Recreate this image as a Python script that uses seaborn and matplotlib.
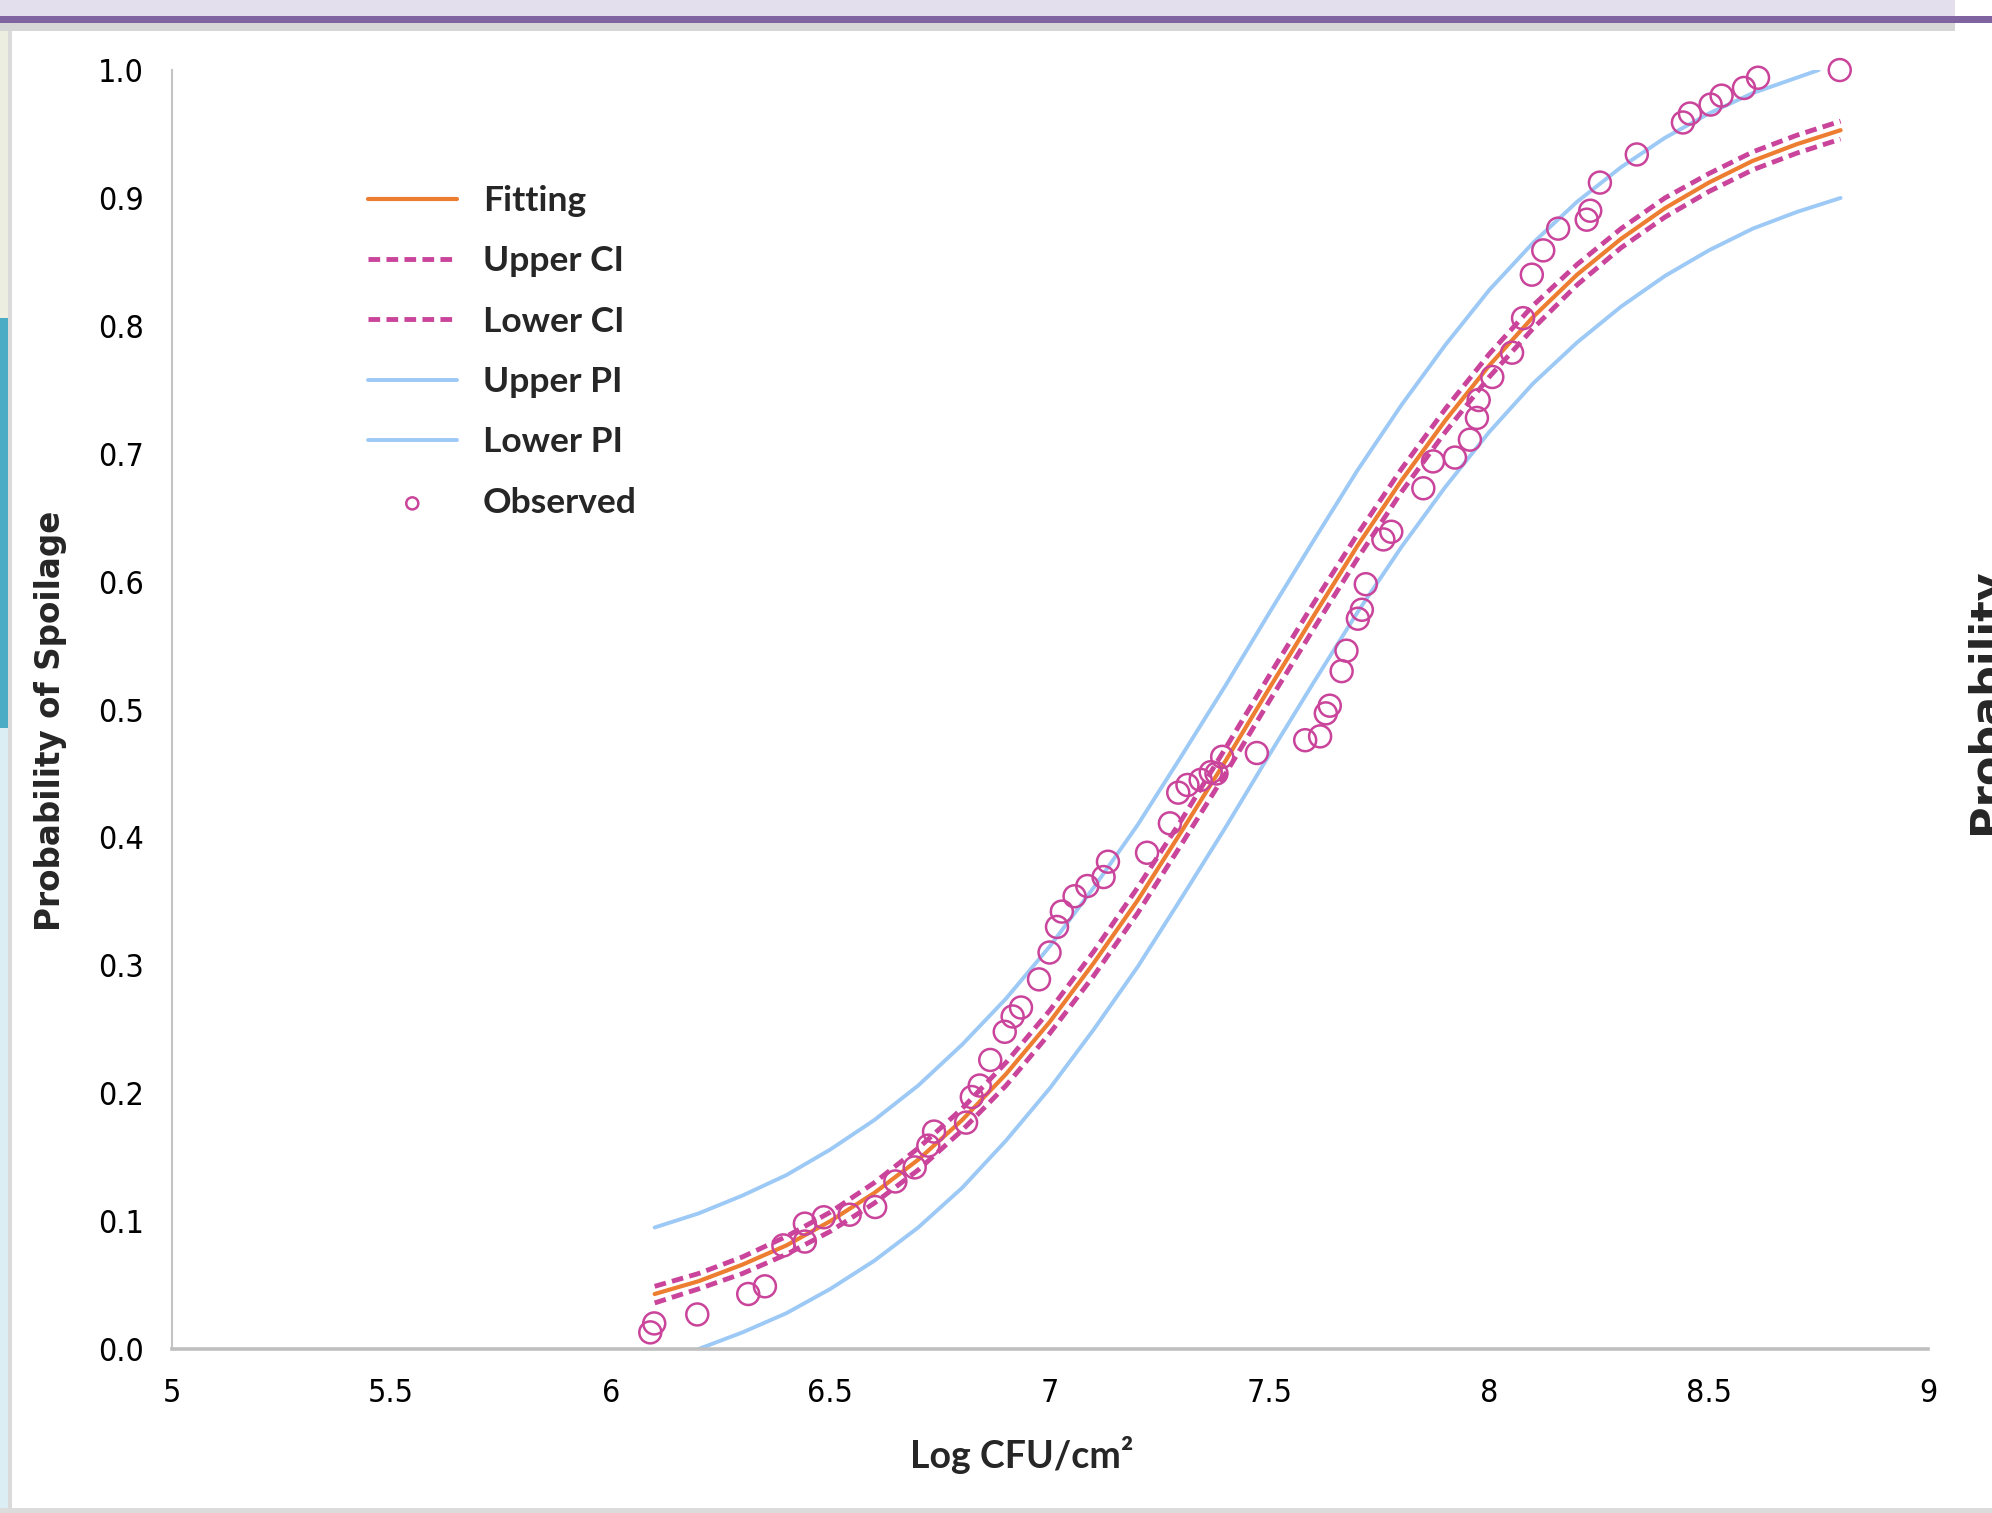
import matplotlib
matplotlib.use("Agg")
import numpy as np
import pandas as pd
import seaborn as sns
import matplotlib.pyplot as plt
from matplotlib.patches import Rectangle
from matplotlib import font_manager

# ---------------- data ----------------
x_grid = [6.1, 6.2, 6.3, 6.4, 6.5, 6.6, 6.7, 6.8, 6.9, 7.0, 7.1, 7.2, 7.3, 7.4,
          7.5, 7.6, 7.7, 7.8, 7.9, 8.0, 8.1, 8.2, 8.3, 8.4, 8.5, 8.6, 8.7, 8.8]
fitting = [0.043, 0.053, 0.066, 0.081, 0.100, 0.122, 0.148, 0.179, 0.215, 0.256,
           0.302, 0.351, 0.405, 0.460, 0.517, 0.573, 0.628, 0.679, 0.726, 0.769,
           0.807, 0.840, 0.868, 0.892, 0.912, 0.929, 0.942, 0.953]
upper_ci = [0.049, 0.059, 0.072, 0.088, 0.107, 0.130, 0.157, 0.188, 0.224, 0.265,
            0.311, 0.361, 0.414, 0.470, 0.527, 0.583, 0.637, 0.688, 0.735, 0.778,
            0.816, 0.848, 0.876, 0.900, 0.919, 0.936, 0.949, 0.960]
lower_ci = [0.036, 0.047, 0.059, 0.074, 0.092, 0.114, 0.140, 0.171, 0.206, 0.247,
            0.292, 0.341, 0.395, 0.450, 0.507, 0.563, 0.618, 0.670, 0.717, 0.760,
            0.798, 0.832, 0.861, 0.885, 0.905, 0.922, 0.935, 0.946]

x_upper_pi = [6.1, 6.2, 6.3, 6.4, 6.5, 6.6, 6.7, 6.8, 6.9, 7.0, 7.1, 7.2, 7.3, 7.4,
              7.5, 7.6, 7.7, 7.8, 7.9, 8.0, 8.1, 8.2, 8.3, 8.4, 8.5, 8.6, 8.7, 8.75]
upper_pi = [0.095, 0.106, 0.120, 0.136, 0.156, 0.179, 0.206, 0.238, 0.274, 0.315,
            0.361, 0.410, 0.464, 0.519, 0.576, 0.632, 0.687, 0.738, 0.785, 0.828,
            0.865, 0.897, 0.924, 0.947, 0.966, 0.982, 0.994, 1.000]

x_lower_pi = [6.2, 6.3, 6.4, 6.5, 6.6, 6.7, 6.8, 6.9, 7.0, 7.1, 7.2, 7.3, 7.4,
              7.5, 7.6, 7.7, 7.8, 7.9, 8.0, 8.1, 8.2, 8.3, 8.4, 8.5, 8.6, 8.7, 8.8]
lower_pi = [0.000, 0.013, 0.028, 0.047, 0.069, 0.095, 0.126, 0.163, 0.204, 0.250,
            0.299, 0.353, 0.408, 0.465, 0.521, 0.576, 0.627, 0.674, 0.717, 0.755,
            0.787, 0.815, 0.839, 0.859, 0.876, 0.889, 0.900]

obs_x = [6.090, 6.099, 6.197, 6.313, 6.351, 6.393, 6.442, 6.442, 6.485, 6.544,
         6.602, 6.648, 6.692, 6.723, 6.736, 6.809, 6.822, 6.840, 6.864, 6.897,
         6.915, 6.934, 6.975, 6.999, 7.016, 7.027, 7.056, 7.085, 7.122, 7.132,
         7.221, 7.273, 7.292, 7.313, 7.343, 7.366, 7.379, 7.392, 7.471, 7.581,
         7.615, 7.628, 7.637, 7.664, 7.675, 7.701, 7.710, 7.719, 7.759, 7.777,
         7.850, 7.872, 7.922, 7.956, 7.972, 7.976, 8.007, 8.052, 8.077, 8.097,
         8.123, 8.157, 8.222, 8.230, 8.252, 8.336, 8.441, 8.457, 8.504, 8.529,
         8.580, 8.612, 8.798]
obs_y = [0.013, 0.020, 0.027, 0.043, 0.049, 0.081, 0.098, 0.084, 0.103, 0.105,
         0.111, 0.131, 0.142, 0.159, 0.170, 0.177, 0.197, 0.206, 0.226, 0.248,
         0.260, 0.267, 0.289, 0.310, 0.330, 0.342, 0.354, 0.362, 0.369, 0.381,
         0.388, 0.411, 0.435, 0.441, 0.445, 0.451, 0.450, 0.463, 0.466, 0.476,
         0.479, 0.497, 0.503, 0.530, 0.546, 0.571, 0.578, 0.598, 0.633, 0.639,
         0.673, 0.694, 0.697, 0.711, 0.728, 0.742, 0.760, 0.779, 0.806, 0.840,
         0.859, 0.876, 0.883, 0.890, 0.912, 0.934, 0.959, 0.966, 0.973, 0.980,
         0.986, 0.994, 1.000]

x_ticks = [5, 5.5, 6, 6.5, 7, 7.5, 8, 8.5, 9]
x_tick_labels = ["5", "5.5", "6", "6.5", "7", "7.5", "8", "8.5", "9"]
y_ticks = [0.0, 0.1, 0.2, 0.3, 0.4, 0.5, 0.6, 0.7, 0.8, 0.9, 1.0]
y_tick_labels = ["0.0", "0.1", "0.2", "0.3", "0.4", "0.5", "0.6", "0.7", "0.8", "0.9", "1.0"]

# ---------------- style ----------------
sns.set_style("white")
ttf = font_manager.fontManager.ttflist
available = {f.name for f in ttf}
def pick(cands):
    for c in cands:
        if c in available:
            return c
    return "DejaVu Sans"

has_dv_condensed = any(f.name == "DejaVu Sans" and str(f.stretch) in ("condensed", "semi-condensed")
                       for f in ttf)
if has_dv_condensed:
    tick_font, tick_stretch = "DejaVu Sans", "condensed"
elif "Liberation Sans Narrow" in available:
    tick_font, tick_stretch = "Liberation Sans Narrow", "normal"
else:
    tick_font, tick_stretch = "DejaVu Sans", "normal"
label_font = pick(["Lato", "Open Sans", "DejaVu Sans"])
plt.rcParams["font.family"] = ["DejaVu Sans"]

ORANGE = "#ED7D31"
MAGENTA = "#C9449A"
BLUE = "#9CC9F5"

fig = plt.figure(figsize=(19.92, 15.13), dpi=100)
fig.patch.set_facecolor("white")

# slide decorations around the chart
deco = [
    ((0.0, 1 - 318 / 1513), 8 / 1992, 318 / 1513, "#ECEEDF"),
    ((0.0, 1 - 728 / 1513), 8 / 1992, 410 / 1513, "#4BACC6"),
    ((0.0, 0.0), 8 / 1992, 1 - 728 / 1513, "#DAEEF3"),
    ((8 / 1992, 0.0), 4 / 1992, 1.0, "#DADADA"),
    ((0.0, 1 - 16 / 1513), 1955 / 1992, 16 / 1513, "#E4DFEC"),
    ((0.0, 1 - 31 / 1513), 1955 / 1992, 9 / 1513, "#D6D6D6"),
    ((0.0, 1 - 23 / 1513), 1.0, 7 / 1513, "#8064A2"),
    ((0.0, 0.0), 1.0, 5 / 1513, "#DCDCDC"),
]
for (xy, w, h, c) in deco:
    fig.patches.append(Rectangle(xy, w, h, transform=fig.transFigure,
                                 facecolor=c, edgecolor="none", zorder=0))

ax = fig.add_axes([0.0861, 0.1084, 0.8820, 0.8453])
ax.set_facecolor("white")

sns.lineplot(x=x_upper_pi, y=upper_pi, ax=ax, color=BLUE, linewidth=2.8,
             label="Upper PI", estimator=None, sort=False)
sns.lineplot(x=x_lower_pi, y=lower_pi, ax=ax, color=BLUE, linewidth=2.8,
             label="Lower PI", estimator=None, sort=False)
sns.lineplot(x=x_grid, y=fitting, ax=ax, color=ORANGE, linewidth=3.0,
             label="Fitting", estimator=None, sort=False)
sns.lineplot(x=x_grid, y=upper_ci, ax=ax, color=MAGENTA, linewidth=3.5,
             linestyle=(0, (2.4, 1.3)), label="Upper CI", estimator=None, sort=False)
sns.lineplot(x=x_grid, y=lower_ci, ax=ax, color=MAGENTA, linewidth=3.5,
             linestyle=(0, (2.4, 1.3)), label="Lower CI", estimator=None, sort=False)
sns.scatterplot(x=obs_x, y=obs_y, ax=ax, marker="o", s=250, facecolors="none",
                edgecolor=MAGENTA, linewidth=1.8, label="Observed", clip_on=False,
                zorder=5)

ax.set_xlim(5, 9)
ax.set_ylim(0, 1)
ax.set_xticks(x_ticks)
ax.set_xticklabels(x_tick_labels)
ax.set_yticks(y_ticks)
ax.set_yticklabels(y_tick_labels)
ax.tick_params(axis="both", length=0, labelsize=23, colors="black")
ax.tick_params(axis="y", pad=20)
ax.tick_params(axis="x", pad=21)
for lab in ax.get_xticklabels() + ax.get_yticklabels():
    lab.set_fontfamily(tick_font)
    lab.set_fontstretch(tick_stretch)

for s in ["top", "right"]:
    ax.spines[s].set_visible(False)
ax.spines["left"].set_color("#C4C4C4")
ax.spines["left"].set_linewidth(1.5)
ax.spines["bottom"].set_color("#BFBFBF")
ax.spines["bottom"].set_linewidth(2.6)
ax.grid(False)

ax.set_ylabel("Probability of Spoilage", fontsize=23.5, fontweight="bold",
              family="DejaVu Sans")
ax.yaxis.set_label_coords(-0.0597, 0.491)
ax.set_xlabel("Log CFU/cm²", fontsize=27, fontweight="bold", family=label_font)
ax.xaxis.set_label_coords(0.484, -0.068)

handles, labels = ax.get_legend_handles_labels()
hmap = dict(zip(labels, handles))
order = ["Fitting", "Upper CI", "Lower CI", "Upper PI", "Lower PI", "Observed"]
leg = ax.legend([hmap[k] for k in order], order, loc="upper left",
                bbox_to_anchor=(368 / 1992, 1 - 185 / 1513),
                bbox_transform=fig.transFigure, frameon=False, borderpad=0,
                borderaxespad=0, handlelength=2.5, handletextpad=0.75,
                labelspacing=0.80, markerscale=0.55,
                prop={"family": label_font, "weight": "bold", "size": 25.5})

# partially visible label of the neighbouring chart at the right edge
fig.text(1998 / 1992, 1 - 834 / 1513, "Probability", rotation=90,
         rotation_mode="anchor", ha="left", va="baseline", fontsize=31,
         fontweight="bold", family="DejaVu Sans")

fig.savefig("out.png", dpi=100)
